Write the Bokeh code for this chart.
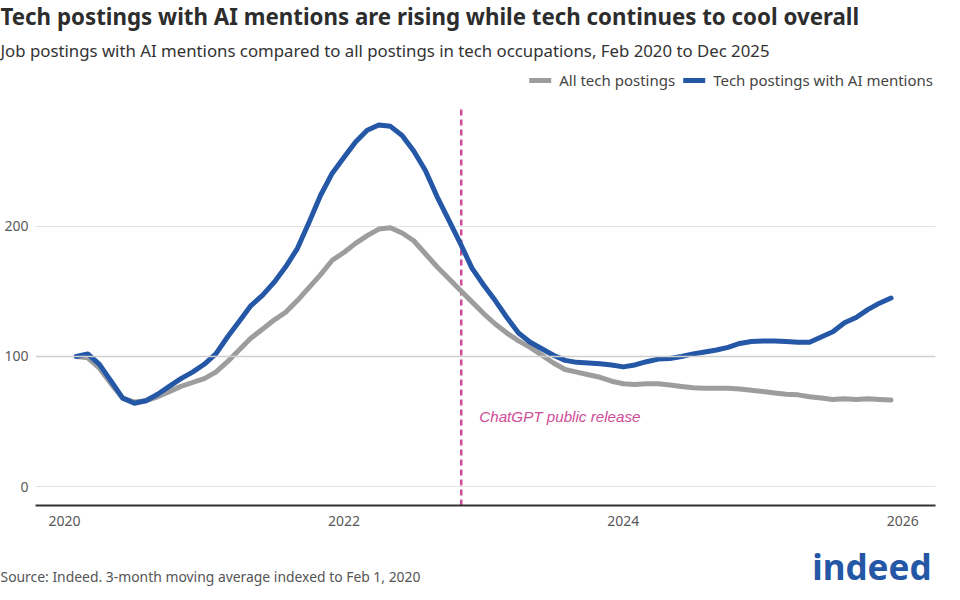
from bokeh.plotting import figure
from bokeh.models import (Legend, LegendItem, FixedTicker, Span, ColumnDataSource, Title)
from bokeh.embed import file_html
from bokeh.resources import INLINE

# ---- data (monthly, Feb 2020 .. Dec 2025) ----
start_year = 2020
start_month = 2
all_tech = [100, 99, 91, 79, 68, 65, 66, 69, 73, 77, 80,
            83, 88, 96, 105, 114, 121, 128, 134, 143, 153, 163, 174,
            180, 187, 193, 198, 199, 195, 189, 179, 169, 160, 151, 142,
            133, 125, 118, 112, 107, 101, 95, 90, 88, 86, 84, 81,
            79, 78.5, 79, 79, 78, 77, 76, 75.5, 75.5, 75.5, 75, 74,
            73, 72, 71, 70.5, 69, 68, 67, 67.5, 67, 67.5, 67, 66.5]
ai_tech = [100, 102, 94, 81, 68, 64, 66, 71, 77, 83, 88,
           94, 102, 115, 127, 139, 147, 157, 169, 183, 203, 224, 241,
           253, 265, 274, 278, 277, 270, 258, 243, 223, 205, 187, 168,
           155, 143, 130, 118, 111, 106, 101, 97, 95.5, 95, 94.5, 93.5,
           92, 93.5, 96, 98, 98.5, 100, 102, 103.5, 105, 107, 110, 111.5,
           112, 112, 111.5, 111, 111, 115, 119, 126, 130, 136, 141, 145]
chatgpt_x = 2022.84
chatgpt_label = "ChatGPT public release"
x_ticks = [2020, 2022, 2024, 2026]
y_ticks = [0, 100, 200]
series_names = ["All tech postings", "Tech postings with AI mentions"]
title_text = "Tech postings with AI mentions are rising while tech continues to cool overall"
subtitle_text = "Job postings with AI mentions compared to all postings in tech occupations, Feb 2020 to Dec 2025"
source_text = "Source: Indeed. 3-month moving average indexed to Feb 1, 2020"
logo_text = "indeed"

months = [start_year + (start_month - 1 + i) / 12.0 for i in range(len(all_tech))]

BLUE = "#2557a7"
GRAY = "#9d9d9d"
MAGENTA = "#cf4d98"
FONT = "Noto Sans"

p = figure(frame_width=900, frame_height=437, output_backend="svg", toolbar_location=None,
           x_range=(2019.7924, 2026.2348), y_range=(-14.6, 321.5),
           min_border_left=35, min_border_right=9, min_border_top=0, min_border_bottom=87)
p.outline_line_color = None
p.background_fill_color = "white"
p.border_fill_color = "white"

# axes
p.xaxis.ticker = FixedTicker(ticks=x_ticks)
p.yaxis.ticker = FixedTicker(ticks=y_ticks)
for ax in (p.xaxis, p.yaxis):
    ax.major_tick_line_color = None
    ax.minor_tick_line_color = None
    ax.major_tick_out = 0
    ax.major_tick_in = 0
    ax.minor_tick_out = 0
    ax.minor_tick_in = 0
    ax.major_label_text_font = FONT
    ax.major_label_text_font_size = "14px"
    ax.major_label_text_color = "#595959"
p.yaxis.axis_line_color = None
p.xaxis.axis_line_color = "#333333"
p.xaxis.axis_line_width = 2
p.xaxis.major_label_standoff = 10
p.yaxis.major_label_standoff = 7
p.xgrid.grid_line_color = None
p.ygrid.grid_line_color = "#e3e3e3"
p.ygrid.grid_line_width = 1.2
p.add_layout(Span(location=100, dimension="width", line_color="#cfcfcf", line_width=1.5))

# ChatGPT line
p.segment(x0=[chatgpt_x], y0=[-14.6], x1=[chatgpt_x], y1=[291], line_color=MAGENTA,
          line_width=2.5, line_dash="6 4")
p.text(x=[chatgpt_x], y=[54], text=[chatgpt_label], x_offset=18,
       text_font={"value": "Liberation Sans"}, text_font_style="italic",
       text_font_size="15.2px", text_color=MAGENTA, text_baseline="middle")

src = ColumnDataSource(dict(x=months, all=all_tech, ai=ai_tech))
r_all = p.line("x", "all", source=src, line_color=GRAY, line_width=5, line_cap="round", line_join="round")
r_ai = p.line("x", "ai", source=src, line_color=BLUE, line_width=5, line_cap="round", line_join="round")

legend = Legend(items=[LegendItem(label=series_names[0], renderers=[r_all]),
                       LegendItem(label=series_names[1], renderers=[r_ai])],
                location="top_right", orientation="horizontal",
                background_fill_alpha=0, border_line_color=None,
                glyph_width=22, glyph_height=18, label_standoff=8, spacing=8,
                padding=0, margin=2,
                label_text_font=FONT, label_text_font_size="15px", label_text_color="#444444")
p.add_layout(legend)

# header (first added sits closest to the plot)
p.add_layout(Title(text=subtitle_text, align="left", offset=-35, standoff=14,
                   text_font=FONT, text_font_style="normal", text_font_size="16.8px",
                   text_color="#333333"), "above")
p.add_layout(Title(text=title_text, align="left", offset=-35, standoff=-4,
                   text_font=FONT, text_font_style="bold", text_font_size="22.3px",
                   text_color="#2d2d2d"), "above")

# footer: zero-height panels, texts pushed down by (negative) standoff
p.add_layout(Title(text=logo_text, align="right", offset=4, standoff=-122,
                   vertical_align="bottom",
                   text_font=FONT, text_font_style="bold", text_font_size="35px",
                   text_color=BLUE), "below")
p.add_layout(Title(text=source_text, align="left", offset=-35, standoff=-114,
                   vertical_align="bottom",
                   text_font=FONT, text_font_style="normal", text_font_size="13.9px",
                   text_color="#555555"), "below")

open("out.html", "w").write(file_html(p, INLINE))
